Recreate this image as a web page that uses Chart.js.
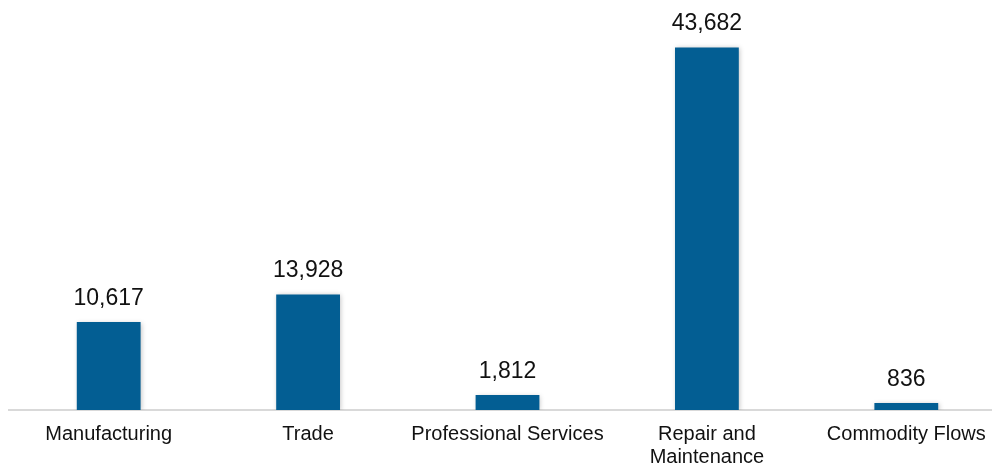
<!DOCTYPE html>
<html>
<head>
<meta charset="utf-8">
<script src="https://cdn.jsdelivr.net/npm/chart.js@4"></script>
<style>
  html, body { margin: 0; padding: 0; background: #fff; overflow: hidden; }
  #wrap { width: 1016px; height: 474px; }
</style>
</head>
<body>
<div id="wrap"><canvas id="chart"></canvas></div>
<script>
// categories and values
const categories = ["Manufacturing", "Trade", "Professional Services", ["Repair and", "Maintenance"], "Commodity Flows"];
const values = [10617, 13928, 1812, 43682, 836];

// labels above bars
const valueLabels = {
  id: "valueLabels",
  afterDatasetsDraw(chart) {
    const ctx = chart.ctx;
    const meta = chart.getDatasetMeta(0);
    ctx.save();
    ctx.font = "23px 'Liberation Sans', Arial, sans-serif";
    ctx.fillStyle = "#111";
    ctx.textAlign = "center";
    ctx.textBaseline = "bottom";
    meta.data.forEach((bar, i) => {
      ctx.fillText(values[i].toLocaleString("en-US"), bar.x, bar.y - 12);
    });
    ctx.restore();
  },
};

// soft shadow under bars
const barShadow = {
  id: "barShadow",
  beforeDatasetDraw(chart) {
    const ctx = chart.ctx;
    ctx.save();
    ctx.shadowColor = "rgba(0,0,0,0.25)";
    ctx.shadowBlur = 5;
    ctx.shadowOffsetX = 1;
    ctx.shadowOffsetY = 1;
  },
  afterDatasetDraw(chart) {
    chart.ctx.restore();
  },
};

new Chart(document.getElementById("chart"), {
  type: "bar",
  data: {
    labels: categories,
    datasets: [
      {
        data: values,
        backgroundColor: "#035E93",
        barPercentage: 0.32,
        categoryPercentage: 1,
      },
    ],
  },
  options: {
    responsive: true,
    maintainAspectRatio: false,
    animation: false,
    layout: { padding: { left: 9, right: 10, top: 0, bottom: 0 } },
    scales: {
      x: {
        grid: { display: false },
        border: { color: "#d9d9d9", width: 2 },
        ticks: {
          color: "#111",
          padding: 5,
          maxRotation: 0,
          autoSkip: false,
          font: { family: "'Liberation Sans', Arial, sans-serif", size: 20, lineHeight: 1.15 },
        },
      },
      y: {
        display: false,
        min: 0,
        max: 49400,
      },
    },
    plugins: {
      legend: { display: false },
      tooltip: { enabled: false },
    },
  },
  plugins: [barShadow, valueLabels],
});
</script>
</body>
</html>
